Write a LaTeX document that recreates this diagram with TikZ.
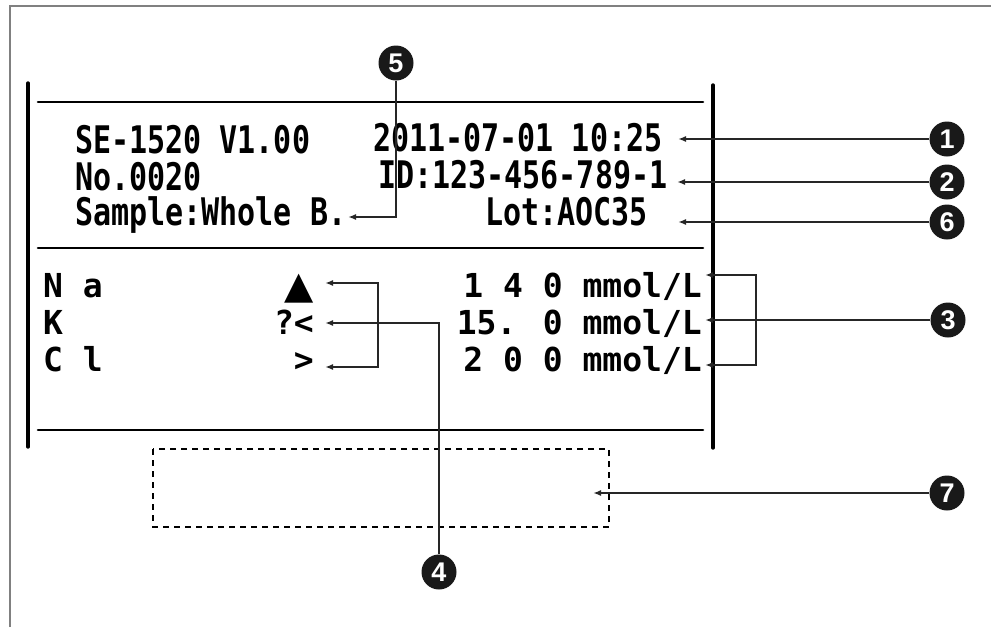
\documentclass[tikz,border=0pt]{standalone}
\usepackage{fontspec}
\usetikzlibrary{arrows.meta}
\newfontfamily\prtfont[FakeStretch=0.79]{DejaVu Sans Mono}
\newfontfamily\lowfont{DejaVu Sans Mono}
\newfontfamily\numfont{Liberation Sans}
\newfontfamily\symfont{DejaVu Sans}
\tikzset{
  callout/.style={circle, fill=black!90, text=white, inner sep=0pt, minimum size=35pt,
    font=\numfont\bfseries\fontsize{27}{27}\selectfont},
  prt/.style={inner sep=0pt, anchor=base west, font=\prtfont\bfseries\fontsize{38}{38}\selectfont},
  row/.style={inner sep=0pt, font=\lowfont\bfseries\fontsize{33}{33}\selectfont},
  ptr/.style={line width=1.6pt, draw=black!85},
  rule/.style={line width=2.6pt, line cap=round},
}
\begin{document}
\begin{tikzpicture}[x=1pt, y=-1pt, >={Latex[length=8pt,width=6pt]}]
\useasboundingbox (0,0) rectangle (991,627);
% Frame
\draw[gray, line width=1.2pt] (10,627) -- (10,6) -- (991,6);
% Receipt edges and rules
\draw[rule, line width=3.4pt] (28,83) -- (28,447);
\draw[rule, line width=3.4pt] (713,85) -- (713,448);
\draw[rule] (38,102) -- (703,102);
\draw[rule] (38,248) -- (703,248);
\draw[rule] (38,430) -- (703,430);
% Header
\node[prt] (model) at (75,153) {SE-1520 V1.00};
\node[prt] (date) at (373,151) {2011-07-01 10:25};
\node[prt] (num) at (75,190) {No.0020};
\node[prt] (id) at (378,188) {ID:123-456-789-1};
\node[prt] (sample) at (75,225) {Sample:Whole B.};
\node[prt] (lot) at (485,225) {Lot:AOC35};
% Results
\node[row, anchor=base west] (na) at (43,297) {N a};
\node[row, anchor=base west] (k) at (43,334) {K};
\node[row, anchor=base west] (cl) at (43,371) {C l};
\node[inner sep=0pt, anchor=base east, font=\symfont\fontsize{38}{38}\selectfont] (flagna) at (314,298) {▲};
\node[row, anchor=base east] (flagk) at (314,334) {?<};
\node[row, anchor=base east] (flagcl) at (314,371) {>};
\node[row, anchor=base east] (valna) at (702,297) {1 4 0 mmol/L};
\node[row, anchor=base east] (valk) at (702,334) {15. 0 mmol/L};
\node[row, anchor=base east] (valcl) at (702,371) {2 0 0 mmol/L};
% Empty area
\draw[line width=1.6pt, dash pattern=on 6pt off 5pt] (153,449) rectangle (609,527);
% Callouts
\node[callout] (c1) at (947,139) {1};
\node[callout] (c2) at (947,182) {2};
\node[callout] (c6) at (947,222) {6};
\node[callout] (c3) at (948,320) {3};
\node[callout] (c7) at (947,493) {7};
\node[callout] (c5) at (396,63) {5};
\node[callout] (c4) at (439,572) {4};
% Arrow tips
\coordinate (t1) at (678,139);
\coordinate (t2) at (677,182);
\coordinate (t6) at (678,222);
\coordinate (t5) at (348,217);
\coordinate (t3a) at (705,275);
\coordinate (t3b) at (705,320);
\coordinate (t3c) at (705,365);
\coordinate (b3) at (756,300);
\coordinate (t4a) at (325,283);
\coordinate (t4b) at (325,323);
\coordinate (t4c) at (325,367);
\coordinate (b4) at (378,300);
\coordinate (t7) at (593,493);
% Leaders
\draw[ptr, ->] (c1) -- (t1);
\draw[ptr, ->] (c2) -- (t2);
\draw[ptr, ->] (c6) -- (t6);
\draw[ptr, ->] (c5) |- (t5);
\draw[ptr, ->] (c3) -- (t3b);
\draw[ptr, <->] (t3a) -| (b3) |- (t3c);
\draw[ptr, ->] (c4) |- (t4b);
\draw[ptr, <->] (t4a) -| (b4) |- (t4c);
\draw[ptr, ->] (c7) -- (t7);
\end{tikzpicture}
\end{document}
